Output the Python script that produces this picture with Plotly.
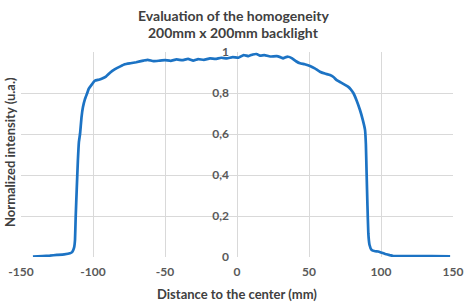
import plotly.graph_objects as go

distance_mm = [-141.7, -135, -130, -125, -120, -116, -114.5, -113.7, -113, -112.5, -112, -111.3, -110.5, -109.8,
               -109, -108, -107, -105.6, -104, -103, -101, -98.6, -96, -94, -91, -88, -85, -81, -78, -74,
               -70, -65, -62, -58, -53.5, -50, -46, -42, -38, -34, -30.4, -27, -23, -18.75, -15, -11, -7,
               -3, 1, 4.6, 8, 11, 13.7, 16, 19, 23, 27.5, 30, 32, 34, 35.6, 38, 41, 43.75, 47, 50.7, 54,
               57.6, 61, 64.6, 67, 69.2, 72, 75, 77.3, 79, 80.8, 83, 85.4, 87.3, 88.9, 89.5, 90, 90.6,
               91.2, 92, 93.5, 96, 98, 100.5, 103, 106, 108.6, 115, 125, 135, 148]
intensity = [0.002, 0.005, 0.007, 0.010, 0.013, 0.018, 0.024, 0.034, 0.05, 0.083, 0.2, 0.33, 0.47, 0.56,
             0.60, 0.68, 0.73, 0.77, 0.80, 0.82, 0.84, 0.86, 0.865, 0.87, 0.88, 0.90, 0.915, 0.93, 0.94, 0.945,
             0.95, 0.958, 0.962, 0.955, 0.958, 0.96, 0.957, 0.964, 0.96, 0.966, 0.958, 0.965, 0.962, 0.969, 0.966,
             0.972, 0.969, 0.975, 0.972, 0.985, 0.98, 0.988, 0.99, 0.982, 0.985, 0.978, 0.98, 0.975, 0.969, 0.975,
             0.977, 0.97, 0.955, 0.945, 0.94, 0.932, 0.92, 0.904, 0.895, 0.888, 0.878, 0.863, 0.852, 0.84, 0.83,
             0.818, 0.80, 0.765, 0.717, 0.67, 0.62, 0.55, 0.41, 0.25,
             0.115, 0.06, 0.034, 0.028, 0.027, 0.021, 0.015, 0.009, 0.005, 0.005, 0.004, 0.004, 0.003]

x_ticks = [-150, -100, -50, 0, 50, 100, 150]
x_tick_labels = ["-150", "-100", "-50", "0", "50", "100", "150"]
y_ticks = [0, 0.2, 0.4, 0.6, 0.8, 1]
y_tick_labels = ["0", "0,2", "0,4", "0,6", "0,8", "1"]

FONT = "Lato"
TXT = "#595959"

L, R, T, B = 21, 12, 52, 48
W, H = 465, 305
pw, ph = W - L - R, H - T - B


def px_to_paper(px, py):
    return (px - L) / pw, (H - B - py) / ph


fig = go.Figure()
fig.add_trace(go.Scatter(x=distance_mm, y=intensity, mode="lines",
                         line=dict(color="#1c73c4", width=2.7, shape="spline", smoothing=0.3),
                         showlegend=False, hoverinfo="skip"))

annots = []
for text, px, py, size, color, angle in [
    ("<b>Evaluation of the homogeneity</b>", 233, 15, 14, "#404040", 0),
    ("<b>200mm x 200mm backlight</b>", 233, 33, 14, "#404040", 0),
    ("<b>Distance to the center (mm)</b>", 237, 294, 13, "#404040", 0),
    ("<b>Normalized intensity (u.a.)</b>", 10, 152, 13, "#404040", -90),
]:
    ax, ay = px_to_paper(px, py)
    annots.append(dict(text=text, x=ax, y=ay, xref="paper", yref="paper", xanchor="center",
                       yanchor="middle", showarrow=False, textangle=angle,
                       font=dict(family=FONT, size=size, color=color)))

fig.update_layout(
    width=W, height=H,
    margin=dict(l=L, r=R, t=T, b=B, autoexpand=False),
    paper_bgcolor="white", plot_bgcolor="white",
    font=dict(family=FONT, size=12, color=TXT),
    xaxis=dict(range=[-150, 150], tickvals=x_ticks, ticktext=x_tick_labels, showgrid=True,
               gridcolor="#d9d9d9", gridwidth=1,
               zeroline=False, showline=False, ticks="", ticklabelstandoff=6, automargin=False,
               tickfont=dict(family=FONT, size=12, color=TXT, weight="bold")),
    yaxis=dict(range=[0, 1], tickvals=y_ticks, ticktext=y_tick_labels, showgrid=True,
               gridcolor="#d9d9d9", gridwidth=1, zeroline=False, showline=False, ticks="",
               anchor="free", position=0.5, ticklabelstandoff=8, automargin=False,
               tickfont=dict(family=FONT, size=12, color=TXT, weight="bold")),
    annotations=annots,
)

fig.write_html("out.html", config={"displayModeBar": False},
               post_script="document.body.style.margin='0';document.body.style.padding='0';")
